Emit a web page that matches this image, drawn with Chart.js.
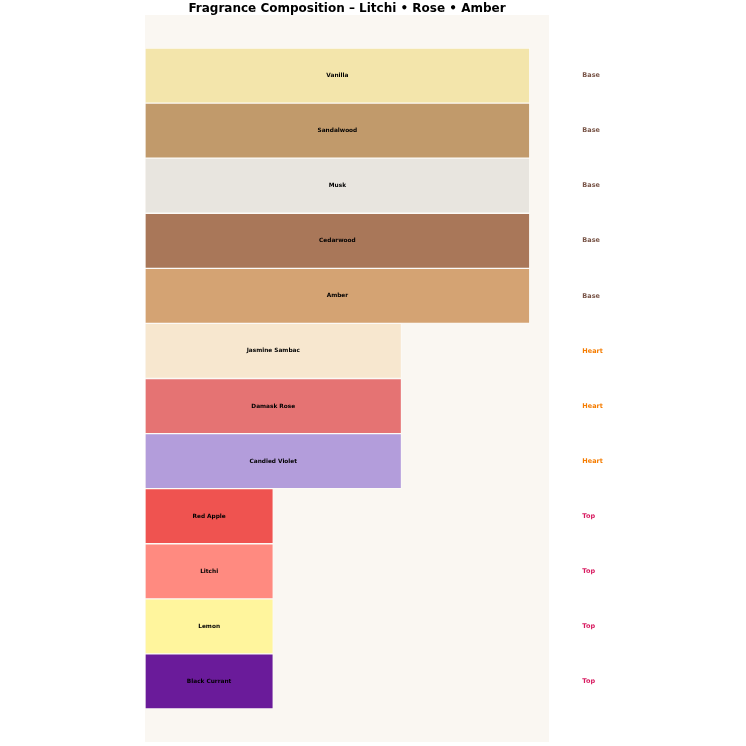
<!DOCTYPE html>
<html>
<head>
<meta charset="utf-8">
<script src="https://cdn.jsdelivr.net/npm/chart.js@4.4.1/dist/chart.umd.min.js"></script>
<style>
  html, body { margin: 0; padding: 0; background: #ffffff; }
  #wrap { width: 746px; height: 746px; }
</style>
</head>
<body>
<div id="wrap"><canvas id="fragChart" width="746" height="746"></canvas></div>
<script>
// Notes listed from top to bottom
const notes = ['Vanilla', 'Sandalwood', 'Musk', 'Cedarwood', 'Amber',
  'Jasmine Sambac', 'Damask Rose', 'Candied Violet',
  'Red Apple', 'Litchi', 'Lemon', 'Black Currant'];
const tiers = ['Base', 'Base', 'Base', 'Base', 'Base',
  'Heart', 'Heart', 'Heart',
  'Top', 'Top', 'Top', 'Top'];
const depth = [3, 3, 3, 3, 3, 2, 2, 2, 1, 1, 1, 1];
const noteColors = ['#f3e5ab', '#c19a6b', '#e8e5df', '#a97759', '#d4a373',
  '#f7e7cf', '#e57373', '#b39ddb',
  '#ef5350', '#ff8a80', '#fff59d', '#6a1b9a'];
const tierColors = { Base: '#795548', Heart: '#f57c00', Top: '#d81b60' };

const ctx = document.getElementById('fragChart').getContext('2d');

// plot background + title
const backdrop = {
  id: 'backdrop',
  beforeDraw(chart) {
    const { ctx, chartArea: a } = chart;
    ctx.save();
    ctx.fillStyle = '#faf7f2';
    ctx.fillRect(a.left, a.top, a.right - a.left, a.bottom - a.top);
    ctx.fillStyle = '#000';
    ctx.font = 'bold 12px "DejaVu Sans"';
    ctx.textAlign = 'center';
    ctx.textBaseline = 'middle';
    ctx.fillText('Fragrance Composition \u2013 Litchi \u2022 Rose \u2022 Amber', (a.left + a.right) / 2, 9);
    ctx.restore();
  }
};

// note names inside bars, tier names at the right
const noteLabels = {
  id: 'noteLabels',
  afterDatasetsDraw(chart) {
    const { ctx } = chart;
    const xs = chart.scales.x, ys = chart.scales.y;
    ctx.save();
    ctx.textBaseline = 'middle';
    notes.forEach((n, i) => {
      const y = ys.getPixelForValue(i);
      ctx.font = 'bold 5.8px "DejaVu Sans"';
      ctx.textAlign = 'center';
      ctx.fillStyle = '#000';
      ctx.fillText(n, xs.getPixelForValue(depth[i] / 2), y);
      ctx.font = 'bold 6.5px "DejaVu Sans"';
      ctx.textAlign = 'left';
      ctx.fillStyle = tierColors[tiers[i]];
      ctx.fillText(tiers[i], xs.getPixelForValue(3.41), y);
    });
    ctx.restore();
  }
};

new Chart(ctx, {
  type: 'bar',
  data: {
    datasets: [{
      data: notes.map((n, i) => ({ x: depth[i], y: i })),
      backgroundColor: noteColors,
      borderColor: 'rgba(255,255,255,0.35)',
      borderWidth: 1,
      borderSkipped: false,
      barPercentage: 1,
      categoryPercentage: 1
    }]
  },
  options: {
    indexAxis: 'y',
    responsive: false,
    animation: false,
    layout: { padding: { left: 145, right: 197, top: 15, bottom: 4 } },
    plugins: {
      legend: { display: false },
      title: { display: false },
      tooltip: { enabled: false }
    },
    scales: {
      x: { type: 'linear', min: 0, max: 3.15, display: false },
      y: { type: 'linear', min: -1.1, max: 12.1, reverse: true, offset: false, display: false }
    }
  },
  plugins: [backdrop, noteLabels]
});
</script>
</body>
</html>
